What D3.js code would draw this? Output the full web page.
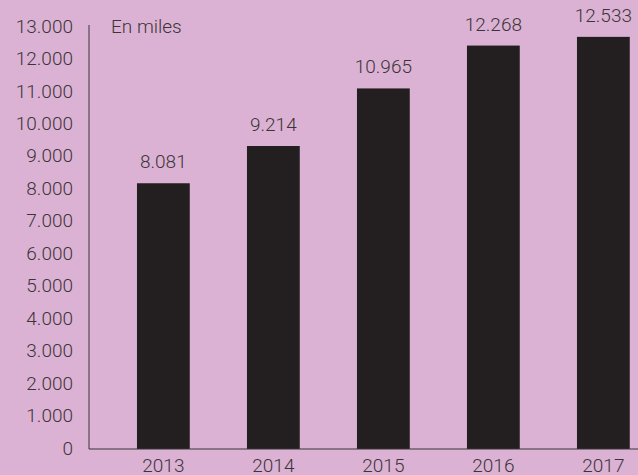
<!DOCTYPE html>
<html>
<head>
<meta charset="utf-8">
<script src="https://cdn.jsdelivr.net/npm/d3@7"></script>
<style>
  html, body { margin: 0; padding: 0; background: #dcb2d4; }
  svg text { font-family: Roboto, "DejaVu Sans", sans-serif; fill: #3b3538; font-size: 19px; font-weight: 300; }
</style>
</head>
<body>
<div id="chart"></div>
<script>
// Data
const years = ["2013", "2014", "2015", "2016", "2017"];
const values = [8081, 9214, 10965, 12268, 12533];
const yTicks = [0, 1000, 2000, 3000, 4000, 5000, 6000, 7000, 8000, 9000, 10000, 11000, 12000, 13000];

const width = 638, height = 475;
const fmt = d3.formatLocale({ decimal: ",", thousands: ".", grouping: [3], currency: ["", ""] }).format(",");

const svg = d3.select("#chart").append("svg")
    .attr("width", width)
    .attr("height", height);

svg.append("rect").attr("width", width).attr("height", height).attr("fill", "#dcb2d4");

const axisX = 89, baseY = 449;

// bars scale and a slightly different one for the tick labels (as in the source)
const y = d3.scaleLinear().domain([0, 13000]).range([baseY, 21.5]);
const yLabel = d3.scaleLinear().domain([0, 13000]).range([448, 26]);

const x = d3.scaleBand()
    .domain(years)
    .range([axisX, axisX + 110 * 5.352])
    .paddingInner(0.52)
    .paddingOuter(0.436);

// bars
svg.selectAll(".bar").data(values).enter().append("rect")
    .attr("class", "bar")
    .attr("x", (d, i) => x(years[i]))
    .attr("y", d => y(d))
    .attr("width", x.bandwidth())
    .attr("height", d => baseY - y(d))
    .attr("fill", "#231f20");

// value labels
svg.selectAll(".val").data(values).enter().append("text")
    .attr("class", "val")
    .attr("x", (d, i) => x(years[i]) + x.bandwidth() / 2)
    .attr("y", d => y(d) - 15)
    .attr("text-anchor", "middle")
    .text(d => fmt(d));

// y tick labels
svg.selectAll(".ytick").data(yTicks).enter().append("text")
    .attr("class", "ytick")
    .attr("x", 73)
    .attr("y", d => yLabel(d))
    .attr("dy", "0.35em")
    .attr("text-anchor", "end")
    .text(d => fmt(d));

// x labels
svg.selectAll(".xtick").data(years).enter().append("text")
    .attr("class", "xtick")
    .attr("x", d => x(d) + x.bandwidth() / 2)
    .attr("y", 465)
    .attr("dy", "0.35em")
    .attr("text-anchor", "middle")
    .text(d => d);

// axis lines
svg.append("line")
    .attr("x1", axisX).attr("x2", axisX)
    .attr("y1", 25).attr("y2", baseY)
    .attr("stroke", "#3b3538").attr("stroke-width", 1);
svg.append("line")
    .attr("x1", axisX).attr("x2", width)
    .attr("y1", baseY).attr("y2", baseY)
    .attr("stroke", "#3b3538").attr("stroke-width", 1);

// unit note
svg.append("text")
    .attr("x", 111)
    .attr("y", 26)
    .attr("dy", "0.35em")
    .text("En miles");
</script>
</body>
</html>
